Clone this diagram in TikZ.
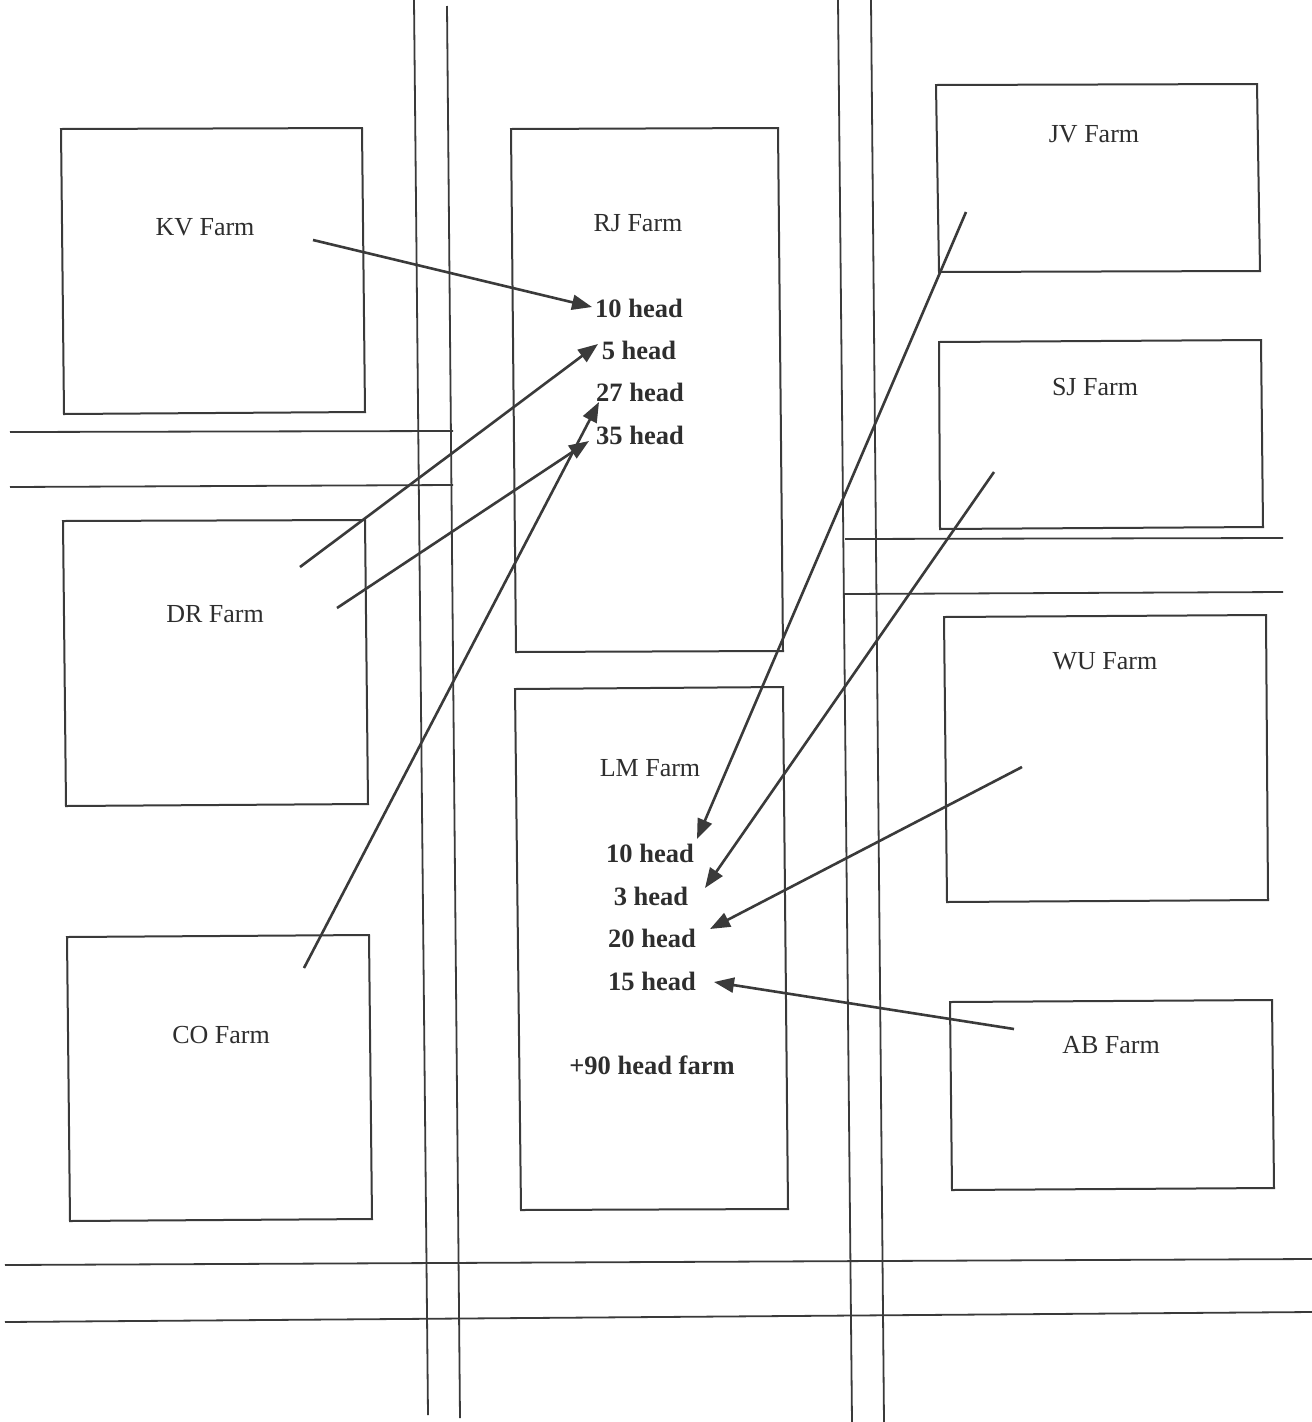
\documentclass[tikz,border=0pt]{standalone}
\usepackage{fontspec}
\setmainfont{Liberation Serif}
\usetikzlibrary{arrows.meta}
\definecolor{ink}{HTML}{3A3A3A}
\definecolor{textink}{HTML}{2E2E2E}
\begin{document}
\begin{tikzpicture}[x=1pt,y=-1pt,
  road/.style={draw=ink,line width=1.8pt},
  farmbox/.style={draw=ink,line width=2pt},
  farmlabel/.style={text=textink,font=\fontsize{26}{30}\selectfont,inner sep=0pt},
  headlabel/.style={text=textink,font=\fontsize{26.5}{30}\selectfont\bfseries,inner sep=0pt},
  flow/.style={draw=ink,line width=2.6pt,-{Triangle[length=20pt,width=15pt]}}]
\useasboundingbox (0,0) rectangle (1312,1422);
\fill[white] (0,0) rectangle (1312,1422);
% roads
\draw[road] (414,0) -- (428,1415);
\draw[road] (447,6) -- (460,1418);
\draw[road] (838,0) -- (852,1422);
\draw[road] (871,0) -- (884,1422);
\draw[road] (10,432) -- (453,431);
\draw[road] (10,487) -- (453,485);
\draw[road] (845,539) -- (1283,538);
\draw[road] (845,594) -- (1283,592);
\draw[road] (5,1265) -- (1312,1259);
\draw[road] (5,1322) -- (1312,1312);
% farm boxes
\draw[farmbox] (61,129) -- (362,128) -- (365,412) -- (64,414) -- cycle;
\draw[farmbox] (63,521) -- (365,520) -- (368,804) -- (66,806) -- cycle;
\draw[farmbox] (67,937) -- (369,935) -- (372,1219) -- (70,1221) -- cycle;
\draw[farmbox] (511,129) -- (778,128) -- (783,651) -- (516,652) -- cycle;
\draw[farmbox] (515,689) -- (783,687) -- (788,1209) -- (521,1210) -- cycle;
\draw[farmbox] (936,85) -- (1257,84) -- (1260,271) -- (939,272) -- cycle;
\draw[farmbox] (939,342) -- (1261,340) -- (1263,527) -- (940,529) -- cycle;
\draw[farmbox] (944,617) -- (1266,615) -- (1268,900) -- (947,902) -- cycle;
\draw[farmbox] (950,1002) -- (1272,1000) -- (1274,1188) -- (952,1190) -- cycle;
% farm labels
\node[farmlabel] (kv) at (205,227) {KV Farm};
\node[farmlabel] (dr) at (215,614) {DR Farm};
\node[farmlabel] (co) at (221,1035) {CO Farm};
\node[farmlabel] (rj) at (638,223) {RJ Farm};
\node[farmlabel] (lm) at (650,768) {LM Farm};
\node[farmlabel] (jv) at (1094,134) {JV Farm};
\node[farmlabel] (sj) at (1095,387) {SJ Farm};
\node[farmlabel] (wu) at (1105,661) {WU Farm};
\node[farmlabel] (ab) at (1111,1045) {AB Farm};
% head labels
\node[headlabel] (r1) at (639,308) {10 head};
\node[headlabel] (r2) at (639,350) {5 head};
\node[headlabel] (r3) at (640,392) {27 head};
\node[headlabel] (r4) at (640,435) {35 head};
\node[headlabel] (l1) at (650,853) {10 head};
\node[headlabel] (l2) at (651,896) {3 head};
\node[headlabel] (l3) at (652,938) {20 head};
\node[headlabel] (l4) at (652,981) {15 head};
\node[headlabel] (l5) at (652,1065) {+90 head farm};
% arrow ends
\coordinate (kvs) at (313,240);  \coordinate (kve) at (592,307);
\coordinate (dr1s) at (300,567); \coordinate (dr1e) at (598,344);
\coordinate (dr2s) at (337,608); \coordinate (dr2e) at (589,441);
\coordinate (cos) at (304,968);  \coordinate (coe) at (599,402);
\coordinate (jvs) at (966,212);  \coordinate (jve) at (697,839);
\coordinate (sjs) at (994,472);  \coordinate (sje) at (705,888);
\coordinate (wus) at (1022,767); \coordinate (wue) at (710,929);
\coordinate (abs) at (1014,1029); \coordinate (abe) at (714,982);
% flows
\draw[flow] (kvs) -- (kve);
\draw[flow] (dr1s) -- (dr1e);
\draw[flow] (dr2s) -- (dr2e);
\draw[flow] (cos) -- (coe);
\draw[flow] (jvs) -- (jve);
\draw[flow] (sjs) -- (sje);
\draw[flow] (wus) -- (wue);
\draw[flow] (abs) -- (abe);
\end{tikzpicture}
\end{document}
